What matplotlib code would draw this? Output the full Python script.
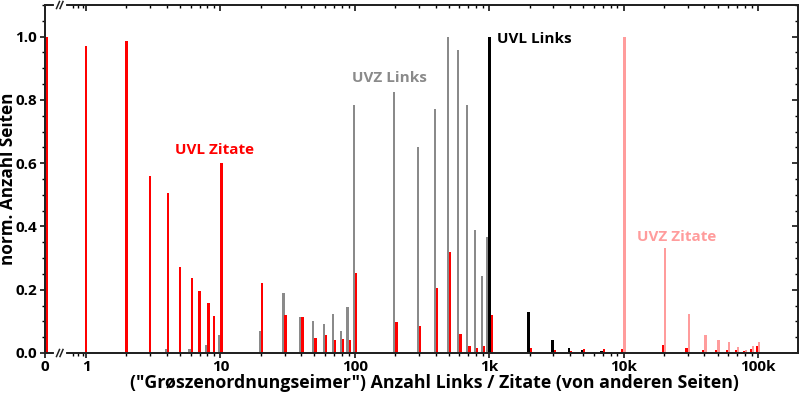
import matplotlib
matplotlib.use("Agg")
import matplotlib.pyplot as plt
import numpy as np
from matplotlib.lines import Line2D

plt.rcParams['font.family'] = ['Open Sans', 'DejaVu Sans']
plt.rcParams['font.weight'] = 'bold'

# ---- data -------------------------------------------------------------
buckets = [0, 1, 2, 3, 4, 5, 6, 7, 8, 9,
           10, 20, 30, 40, 50, 60, 70, 80, 90,
           100, 200, 300, 400, 500, 600, 700, 800, 900,
           1000, 2000, 3000, 4000, 5000, 6000, 7000, 8000, 9000,
           10000, 20000, 30000, 40000, 50000, 60000, 70000, 80000, 90000, 100000]

uvz_links = [0, 0, 0, 0, 0.013, 0, 0.013, 0, 0.025, 0,
             0.057, 0.068, 0.19, 0.113, 0.102, 0.091, 0.124, 0.068, 0.145,
             0.783, 0.826, 0.652, 0.772, 1.0, 0.959, 0.783, 0.388, 0.244,
             0.366, 0, 0, 0, 0, 0, 0, 0, 0,
             0, 0, 0, 0, 0, 0, 0, 0, 0, 0]

uvl_links = [0, 0, 0, 0, 0, 0, 0, 0, 0, 0,
             0, 0, 0, 0, 0, 0, 0, 0, 0,
             0, 0, 0, 0, 0, 0, 0, 0, 0,
             1.0, 0.131, 0.040, 0.017, 0.008, 0.004, 0.006, 0.003, 0.002,
             0, 0, 0, 0, 0, 0, 0, 0, 0, 0]

uvl_zitate = [1.0, 0.970, 0.987, 0.561, 0.507, 0.273, 0.238, 0.197, 0.159, 0.117,
              0.601, 0.221, 0.121, 0.113, 0.047, 0.057, 0.041, 0.044, 0.041,
              0.254, 0.097, 0.085, 0.205, 0.320, 0.059, 0.021, 0.017, 0.023,
              0.121, 0.017, 0.008, 0.005, 0.012, 0, 0.012, 0, 0,
              0.012, 0.024, 0.015, 0.008, 0.008, 0.008, 0.008, 0.005, 0.012, 0.021]

uvz_zitate = [0, 0, 0, 0, 0, 0, 0, 0, 0, 0,
              0, 0, 0, 0, 0, 0, 0, 0, 0,
              0, 0, 0, 0, 0, 0, 0, 0, 0,
              0, 0, 0, 0, 0, 0, 0, 0, 0,
              1.0, 0.332, 0.124, 0.056, 0.042, 0.036, 0.018, 0.008, 0.021, 0.036]

series_names = ["UVZ Links", "UVL Links", "UVL Zitate", "UVZ Zitate"]
series_vals = [uvz_links, uvl_links, uvl_zitate, uvz_zitate]
series_cols = ["#8a8a8a", "#000000", "#ff0000", "#ff9c9c"]
series_wpx = [2.2, 2.8, 2.4, 2.5]

xtick_vals = [0, 1, 10, 100, 1000, 10000, 100000]
xtick_labels = ["0", "1", "10", "100", "1k", "10k", "100k"]

# ---- figure -----------------------------------------------------------
W, H = 800, 394
fig = plt.figure(figsize=(W / 100, H / 100), dpi=100)
ax_l, ax_r, ax_t, ax_b = 45, 798, 5, 353
ax = fig.add_axes([ax_l / W, (H - ax_b) / H, (ax_r - ax_l) / W, (ax_b - ax_t) / H])
ax.set_xscale('log')
xmin, xmax = 0.495, 198600
ax.set_xlim(xmin, xmax)
ax.set_ylim(0, 1.1)
px_per_dec = (ax_r - ax_l) / np.log10(xmax / xmin)

ZERO_BAR = 0.512   # bar position of bucket "0" on the broken log axis
ZERO_TICK = xmin   # tick label position of "0"

step_px = 2.2
for i, b in enumerate(buckets):
    xd = b if b > 0 else ZERO_BAR
    present = [k for k in range(4) if series_vals[k][i] > 0]
    n = len(present)
    for j, k in enumerate(present):
        off = (j - (n - 1) / 2) * step_px
        c = np.log10(xd) + off / px_per_dec
        hw = series_wpx[k] / 2 / px_per_dec
        left, right = 10 ** (c - hw), 10 ** (c + hw)
        ax.bar(left, series_vals[k][i], width=right - left, align='edge',
               color=series_cols[k], linewidth=0, zorder=2 + (k == 1))

# ---- ticks -------------------------------------------------------------
xt = [v if v > 0 else ZERO_TICK for v in xtick_vals]
minor_x = [0.8, 0.87, 0.95] + [m * 10 ** d for d in range(0, 5) for m in range(2, 10)]
yt = np.arange(0, 1.01, 0.2)
ym = np.arange(0, 1.101, 0.05)

ax.set_xticks(xt)
ax.set_xticklabels(xtick_labels)
ax.set_xticks(minor_x, minor=True)
ax.set_xticklabels([], minor=True)
ax.set_yticks(yt)
ax.set_yticklabels([f"{v:.1f}" for v in yt])
ax.set_yticks(ym, minor=True)
ax.tick_params(which='major', direction='out', length=3.5, width=1.1, labelsize=11)
ax.tick_params(which='minor', direction='out', length=2.2, width=1.0)
ax.tick_params(axis='x', which='major', pad=1.2)
ax.tick_params(axis='y', which='major', pad=2.2)

# mirrored inward ticks (right / top)
axr = ax.twinx()
axr.set_ylim(0, 1.1)
axr.set_yticks(yt)
axr.set_yticks(ym, minor=True)
axr.set_yticklabels([])
axr.tick_params(which='major', direction='in', length=4, width=1.1)
axr.tick_params(which='minor', direction='in', length=2.5, width=1.0)
axt = ax.twiny()
axt.set_xscale('log')
axt.set_xlim(xmin, xmax)
axt.set_xticks(xt[1:])
axt.set_xticks(minor_x, minor=True)
axt.set_xticklabels([])
axt.set_xticklabels([], minor=True)
axt.tick_params(which='major', direction='in', length=4, width=1.1)
axt.tick_params(which='minor', direction='in', length=2.5, width=1.0)
for a in (ax, axr, axt):
    for s in a.spines.values():
        s.set_linewidth(1.2)
        s.set_color('#222222')

ax.set_xlabel('("Grøszenordnungseimer") Anzahl Links / Zitate (von anderen Seiten)',
              fontsize=12.8, fontweight='bold')
ax.xaxis.set_label_coords(0.517, -0.061)
ax.set_ylabel('norm. Anzahl Seiten', fontsize=12.3, fontweight='bold')
ax.yaxis.set_label_coords(-0.037, 0.5)

# ---- series labels ------------------------------------------------------
ax.text(4.6, 0.642, "UVL Zitate", color=series_cols[2], fontsize=11, fontweight='bold',
        ha='left', va='center')
ax.text(95, 0.87, "UVZ Links", color=series_cols[0], fontsize=11, fontweight='bold',
        ha='left', va='center')
ax.text(1150, 0.994, "UVL Links", color=series_cols[1], fontsize=11, fontweight='bold',
        ha='left', va='center')
ax.text(12600, 0.367, "UVZ Zitate", color=series_cols[3], fontsize=11, fontweight='bold',
        ha='left', va='center')

# ---- axis break marks ----------------------------------------------------
def fx(px):
    return px / W

def fy(py):
    return (H - py) / H

for yb in (ax_b, ax_t):
    fig.add_artist(Line2D([fx(56.5), fx(63.5)], [fy(yb), fy(yb)], color='white',
                          linewidth=3, transform=fig.transFigure, zorder=10))
    for x0 in (56.5, 60.0):
        fig.add_artist(Line2D([fx(x0), fx(x0 + 3)], [fy(yb + 3.5), fy(yb - 3.5)],
                              color='#222222', linewidth=1.1,
                              transform=fig.transFigure, zorder=11))

fig.savefig("out.png", dpi=100)
